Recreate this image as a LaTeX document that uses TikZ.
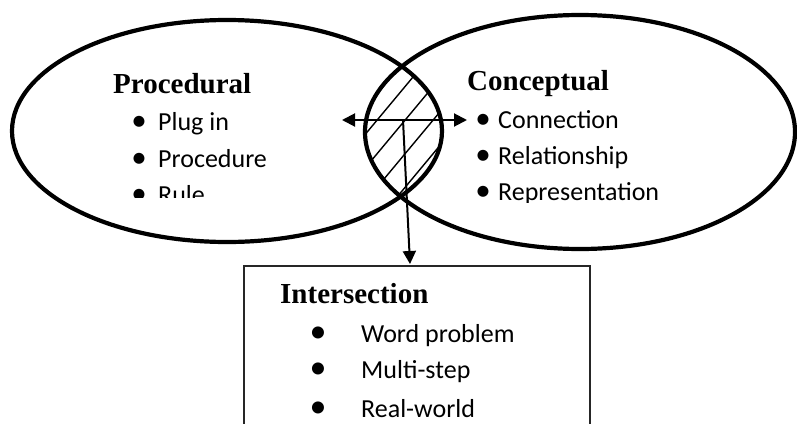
\documentclass[tikz,border=0pt]{standalone}
\usepackage{fontspec}
\setmainfont{Liberation Serif}
\newfontfamily\bodyfont{Carlito}
\usetikzlibrary{shapes.geometric,arrows.meta}

\begin{document}
\begin{tikzpicture}[x=1pt,y=-1pt,
  >={Triangle[length=13pt,width=13pt]},
  venn/.style={ellipse, draw, line width=4.2pt, inner sep=0pt},
  head/.style={anchor=base west, inner sep=0pt, font=\fontsize{29}{29}\selectfont\bfseries},
  item/.style={anchor=base west, inner sep=0pt, font=\fontsize{26}{26}\selectfont\bodyfont},
  bul/.style={anchor=base, inner sep=0pt, font=\fontsize{31}{31}\selectfont\bodyfont},
  bigbul/.style={anchor=base, inner sep=0pt, font=\fontsize{34}{34}\selectfont\bodyfont},
  link/.style={line width=2pt},
  hatch/.style={line width=1.4pt},
  infobox/.style={draw=black!85, line width=1.5pt, inner sep=0pt, anchor=north west}
]
\clip (0,0) rectangle (797,423);

% hatched overlap of the two sets
\begin{scope}
  \clip (227,131) ellipse [x radius=215, y radius=111];
  \clip (580,132) ellipse [x radius=215, y radius=117];
  \foreach \k in {-3,...,4}
    \draw[hatch] ({368+28*\k-80},{131+96}) -- ({368+28*\k+80},{131-96});
\end{scope}

% the two sets
\node[venn, minimum width=430pt, minimum height=222pt] (proc) at (227,131) {};
\node[venn, minimum width=430pt, minimum height=234pt] (conc) at (580,132) {};

% procedural list
\node[head] (proctitle) at (113,93) {Procedural};
\begin{scope}
  \clip (0,0) rectangle (360,197);
  \node[bul]  (pb1) at (139,130) {•};
  \node[item] (pi1) at (158,130) {Plug in};
  \node[bul]  (pb2) at (139,167) {•};
  \node[item] (pi2) at (158,167) {Procedure};
  \node[bul]  (pb3) at (139,203) {•};
  \node[item] (pi3) at (158,203) {Rule};
\end{scope}

% conceptual list
\node[head] (conctitle) at (467,90) {Conceptual};
\begin{scope}
  \clip (450,0) rectangle (797,202);
  \node[bul]  (cb1) at (483,128) {•};
  \node[item] (ci1) at (498,128) {Connection};
  \node[bul]  (cb2) at (483,164) {•};
  \node[item] (ci2) at (498,164) {Relationship};
  \node[bul]  (cb3) at (483,200) {•};
  \node[item] (ci3) at (498,200) {Representation};
\end{scope}

% intersection box
\node[infobox, minimum width=346pt, minimum height=200pt] (box) at (243,265) {};
\node[head] (inttitle) at (280,303) {Intersection};
\node[bigbul] (ib1) at (318,342) {•};
\node[item]   (ii1) at (361,342) {Word problem};
\node[bigbul] (ib2) at (318,378) {•};
\node[item]   (ii2) at (361,378) {Multi-step};
\node[bigbul] (ib3) at (318,417) {•};
\node[item]   (ii3) at (361,417) {Real-world};

% arrows
\coordinate (hl) at (342,120);
\coordinate (hr) at (467,120);
\coordinate (hm) at (403,120);
\coordinate (boxin) at (410,264);
\draw[link, <->] (hl) -- (hr);
\draw[link, ->] (hm) -- (boxin);
\end{tikzpicture}
\end{document}
